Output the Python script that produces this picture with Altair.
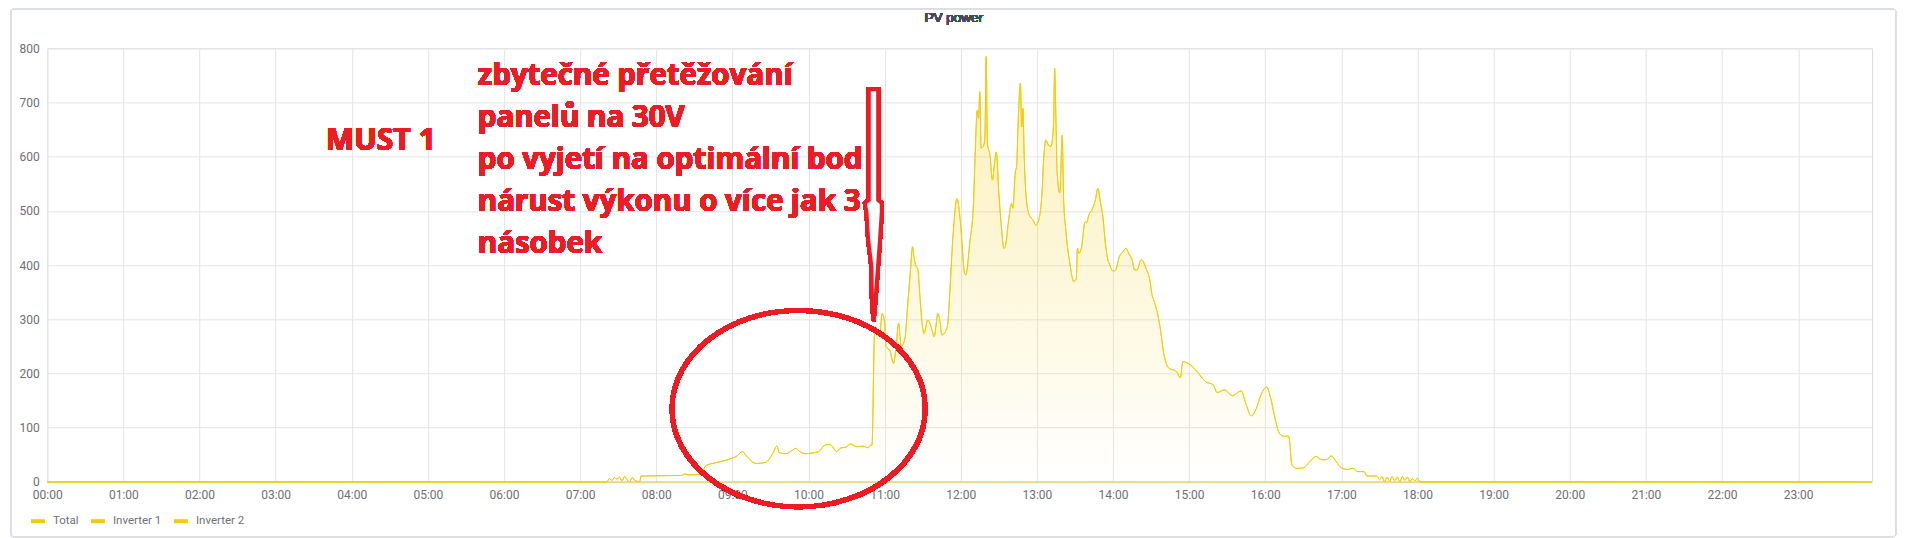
import altair as alt
import pandas as pd

# ---- data (time of day, watts) ----
times = [
    "00:00", "07:21", "07:23", "07:25", "07:27", "07:29", "07:31", "07:33", "07:35", "07:37",
    "07:39", "07:41", "07:43", "07:45", "07:47", "07:48", "08:20", "08:22", "08:25", "08:35",
    "08:39", "08:44", "08:50", "08:55", "09:00", "09:03", "09:08", "09:11", "09:19", "09:26",
    "09:32", "09:35", "09:37", "09:42", "09:47", "09:50", "09:53", "09:58", "10:04", "10:08",
    "10:13", "10:17", "10:19", "10:22", "10:25", "10:30", "10:33", "10:38", "10:43", "10:47",
    "10:49", "10:50", "10:52", "10:53", "10:56", "10:58", "11:00", "11:01", "11:04", "11:07",
    "11:09", "11:11", "11:13", "11:16", "11:18", "11:20", "11:22", "11:23", "11:25", "11:26",
    "11:28", "11:29", "11:31", "11:34", "11:37", "11:39", "11:42", "11:44", "11:45", "11:49",
    "11:50", "11:51", "11:54", "11:57", "11:59", "12:00", "12:03", "12:04", "12:07", "12:10",
    "12:11", "12:13", "12:14", "12:15", "12:16", "12:18", "12:19", "12:20", "12:21", "12:23",
    "12:25", "12:26", "12:28", "12:30", "12:32", "12:34", "12:35", "12:38", "12:40", "12:41",
    "12:43", "12:44", "12:45", "12:47", "12:48", "12:49", "12:50", "12:52", "12:54", "12:57",
    "12:59", "13:01", "13:04", "13:05", "13:07", "13:09", "13:11", "13:13", "13:14", "13:15",
    "13:16", "13:18", "13:20", "13:21", "13:23", "13:26", "13:29", "13:31", "13:32", "13:33",
    "13:35", "13:38", "13:39", "13:41", "13:44", "13:46", "13:48", "13:50", "13:52", "13:54",
    "13:56", "13:57", "14:00", "14:02", "14:05", "14:08", "14:10", "14:13", "14:15", "14:17",
    "14:19", "14:22", "14:24", "14:26", "14:29", "14:31", "14:32", "14:37", "14:40", "14:44",
    "14:50", "14:53", "14:55", "14:59", "15:05", "15:13", "15:19", "15:22", "15:28", "15:34",
    "15:41", "15:45", "15:49", "15:53", "15:56", "16:01", "16:04", "16:08", "16:11", "16:15",
    "16:18", "16:19", "16:21", "16:25", "16:30", "16:35", "16:40", "16:44", "16:48", "16:52",
    "16:56", "17:00", "17:05", "17:09", "17:13", "17:18", "17:20", "17:28", "17:30", "17:32",
    "17:34", "17:36", "17:38", "17:40", "17:42", "17:44", "17:46", "17:48", "17:50", "17:52",
    "17:54", "17:56", "17:58", "18:00", "18:02", "23:58",
]
total = [
    0, 0, 6, 3, 8, 5, 9, 2, 10, 4,
    0, 8, 3, 1, 1, 11, 12, 15, 13, 14,
    30, 34, 37, 40, 44, 47, 56, 48, 34, 36,
    53, 66, 54, 52, 58, 62, 56, 52, 54, 56,
    68, 69, 65, 56, 62, 65, 70, 65, 66, 63,
    68, 68, 275, 286, 268, 311, 293, 250, 243, 219,
    250, 293, 250, 265, 323, 380, 434, 416, 397, 394,
    336, 305, 274, 299, 283, 268, 311, 290, 271, 283,
    299, 336, 459, 523, 496, 471, 385, 382, 440, 514,
    582, 686, 671, 720, 616, 621, 637, 785, 625, 603,
    557, 575, 609, 533, 471, 431, 434, 489, 514, 505,
    572, 582, 649, 736, 655, 689, 600, 514, 493, 483,
    474, 480, 533, 582, 631, 622, 619, 655, 763, 668,
    570, 533, 640, 526, 459, 403, 370, 375, 431, 422,
    431, 480, 478, 493, 505, 520, 542, 517, 489, 440,
    409, 403, 389, 391, 416, 425, 431, 419, 410, 391,
    391, 410, 406, 394, 373, 342, 336, 287, 237, 210,
    204, 192, 222, 219, 207, 185, 179, 165, 170, 159,
    168, 142, 122, 136, 157, 175, 157, 114, 90, 84,
    85, 78, 31, 25, 26, 37, 47, 41, 41, 48,
    37, 26, 23, 25, 19, 19, 11, 11, 4, 10,
    0, 9, 1, 10, 2, 9, 0, 10, 3, 9,
    0, 6, 2, 7, 0, 0,
]
inverter_1 = list(total)
inverter_2 = [0] * len(times)
series_names = ["Total", "Inverter 1", "Inverter 2"]
hour_ticks = list(range(24))
y_ticks = [0, 100, 200, 300, 400, 500, 600, 700, 800]

title_text = "PV power"
must_text = "MUST 1"
note_lines = [
    "zbytečné přetěžování",
    "panelů na 30V",
    "po vyjetí na optimální bod",
    "nárust výkonu o více jak 3",
    "násobek",
]

# ---- build tables ----
def to_hours(t):
    hh, mm = t.split(":")
    return int(hh) + int(mm) / 60.0

hours = [to_hours(t) for t in times]
rows = []
for name, vals in zip(series_names, [total, inverter_1, inverter_2]):
    for h, v in zip(hours, vals):
        rows.append({"h": h, "value": v, "series": name})
df = pd.DataFrame(rows)
df_total = df[df.series == "Total"]

YELLOW = "#F2CC0C"
RED = "#ED1C24"
GRID = "#e4e4e4"
LABEL = "#6e7074"
W, H = 1825.4, 433.7

xscale = alt.Scale(domain=[0, 23.97], nice=False, zero=False)
yscale = alt.Scale(domain=[0, 800], nice=False)
xaxis = alt.Axis(
    values=hour_ticks, title=None, ticks=False, domain=False, grid=True,
    gridColor=GRID, labelColor=LABEL, labelFont="Roboto", labelFontSize=12,
    labelPadding=8, labelExpr="(datum.value < 10 ? '0' : '') + datum.value + ':00'",
    labelFlush=False, labelOverlap=False,
)
yaxis = alt.Axis(
    values=y_ticks, title=None, ticks=False, domain=False, grid=True,
    gridColor=GRID, labelColor=LABEL, labelFont="Roboto", labelFontSize=12,
    labelPadding=8,
)

base = alt.Chart(df)

panel = alt.Chart(df_total).mark_rect(
    fillOpacity=0, stroke="#dcdee2", strokeWidth=1, cornerRadius=3
).encode(
    x=alt.value(-36.6), x2=alt.value(1849.4), y=alt.value(-39.3), y2=alt.value(488.4)
)

area = alt.Chart(df_total).mark_area(
    interpolate="monotone",
    color=alt.Gradient(
        gradient="linear",
        stops=[
            alt.GradientStop(color="rgba(242,204,12,0.30)", offset=0),
            alt.GradientStop(color="rgba(242,204,12,0.0)", offset=1),
        ],
        x1=1, x2=1, y1=0, y2=1,
    ),
).encode(
    x=alt.X("h:Q", scale=xscale, axis=xaxis),
    y=alt.Y("value:Q", scale=yscale, axis=yaxis),
)

lines = base.mark_line(interpolate="monotone", strokeWidth=1).encode(
    x=alt.X("h:Q", scale=xscale, axis=xaxis),
    y=alt.Y("value:Q", scale=yscale, axis=yaxis),
    color=alt.Color(
        "series:N",
        scale=alt.Scale(domain=series_names, range=[YELLOW, YELLOW, YELLOW]),
        legend=alt.Legend(
            title=None, orient="none", direction="horizontal", columns=3,
            legendX=-18.3, legendY=464, padding=0,
            symbolType="stroke", symbolSize=196, symbolStrokeWidth=4,
            labelFont="Roboto", labelFontSize=11.5, labelColor=LABEL,
            labelOffset=6, columnPadding=4,
        ),
    ),
    detail="series:N",
)

ellipse = alt.Chart(df_total).mark_point(
    shape="M-126.7,0A126.7,98.3,0,1,1,126.7,0A126.7,98.3,0,1,1,-126.7,0Z",
    size=4, filled=False, stroke=RED, strokeWidth=4.5, opacity=1,
).encode(x=alt.datum(9.869), y=alt.datum(135.2))

arrow = alt.Chart(df_total).mark_point(
    shape=("M-4.7,-110.7L4.7,-110.7L4.7,0L8.3,3L8.3,12L6.5,40L4.5,67L2,100L0,121"
           "L-1.5,100L-2,67L-5.3,40L-7,12L-8.7,3L-4.7,0Z"),
    size=4, filled=True, fill="white", stroke=RED, strokeWidth=4, opacity=1,
    strokeJoin="miter",
).encode(x=alt.datum(10.853), y=alt.datum(520.2))

must = alt.Chart(df_total).mark_text(
    text=must_text, font="Open Sans", fontWeight="bold", fontSize=30, color=RED,
    align="left", baseline="alphabetic",
).encode(x=alt.datum(3.659), y=alt.datum(612.4))

note = alt.Chart(df_total).mark_text(
    text=note_lines, font="Open Sans", fontWeight="bold", fontSize=29.5, color=RED,
    align="left", baseline="alphabetic", lineHeight=42,
).encode(x=alt.datum(5.655), y=alt.datum(732.3))

title = alt.Chart(df_total).mark_text(
    text=title_text, font="Liberation Sans", fontSize=13.5, fontWeight="normal",
    color="#464c54", align="center", baseline="middle",
).encode(x=alt.value(906.7), y=alt.value(-30.8))

chart = alt.layer(panel, area, lines, ellipse, arrow, must, note, title).properties(
    width=W, height=H,
    autosize=alt.AutoSizeParams(type="none"),
    padding={"left": 39.3, "top": 40.3, "right": 30, "bottom": 56},
).configure_view(stroke=None).configure(background="white")

chart.save("out.html", embed_options={"renderer": "svg", "actions": False})
